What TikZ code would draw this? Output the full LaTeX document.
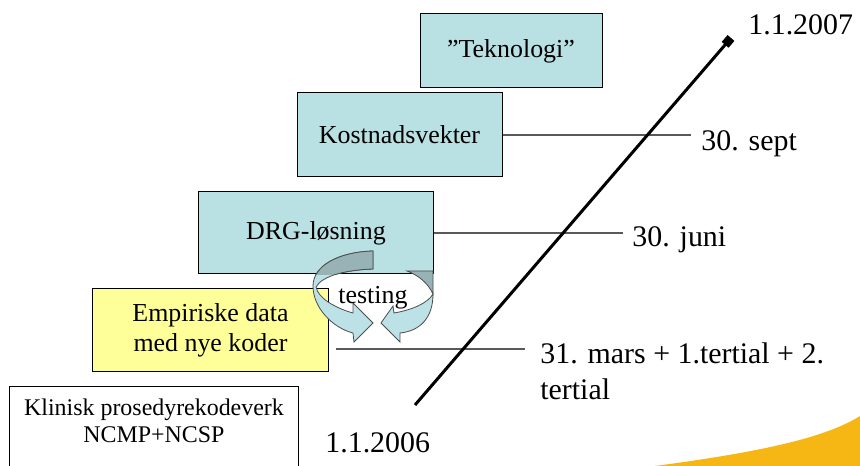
\documentclass[tikz,border=0pt]{standalone}
\usepackage{fontspec}
\setmainfont{Liberation Serif}
\usetikzlibrary{arrows.meta}
\definecolor{boxteal}{HTML}{B9E0E3}
\definecolor{boxyellow}{HTML}{FFFF99}
\definecolor{loopfront}{HTML}{BCE2E7}
\definecolor{loopback}{HTML}{97B3B5}
\definecolor{swoosh}{HTML}{F6B614}
\newcommand{\leftloop}{(373,251) .. controls (338,252) and (313,266) .. (313,286)
  .. controls (313,308) and (333,328) .. (353,333) -- (354,342) -- (373,323) -- (353,303)
  -- (353,313) .. controls (335,308) and (318,298) .. (316,287)
  .. controls (322,276) and (345,270) .. (373,269) -- cycle}
\begin{document}
\begin{tikzpicture}[x=0.5bp, y=-0.5bp,
  box/.style={draw, line width=0.5bp, align=center, inner sep=0pt, font=\fontsize{13}{15}\selectfont},
  tealbox/.style={box, fill=boxteal},
  datebox/.style={anchor=base west, inner sep=0pt, font=\fontsize{15}{18.5}\selectfont},
  tick/.style={draw=black!65, line width=0.75bp},
  loop/.style={fill=loopfront, draw=black!70, line width=0.4bp}
]
\useasboundingbox (0,0) rectangle (860,466);
\fill[swoosh] (655,466) .. controls (760,452) and (825,438) .. (860,416) -- (860,466) -- cycle;

\node[tealbox, minimum width=91bp, minimum height=37bp] (tek) at (511,51) {”Teknologi”};
\node[tealbox, minimum width=102.5bp, minimum height=42bp] (kost) at (399.5,135) {Kostnadsvekter};
\node[tealbox, minimum width=117bp, minimum height=41bp] (drg) at (316,233) {DRG-løsning};
\node[box, fill=boxyellow, minimum width=117.5bp, minimum height=41.5bp] (emp) at (210.5,330.5) {Empiriske data\\med nye koder};
\node[box, fill=white, minimum width=144bp, minimum height=44bp] (klin) at (154,431) {};
\node[align=center, inner sep=0pt, font=\fontsize{12}{13.5}\selectfont] (klintext) at (154,421) {Klinisk prosedyrekodeverk\\NCMP+NCSP};

\node[datebox] (d2007) at (748,35) {1.1.2007};
\node[datebox] (sept) at (701,151) {30. sept};
\node[datebox] (juni) at (632,247) {30. juni};
\node[anchor=north west, inner sep=0pt, align=left, font=\fontsize{15}{18.5}\selectfont] (mars) at (540,342) {31. mars + 1.tertial + 2.\\tertial};
\node[datebox] (d2006) at (325,453) {1.1.2006};

\coordinate (marsstart) at (336,349);
\draw[tick, shorten >=5bp] (kost.east) -- (kost.east -| sept.west);
\draw[tick, shorten >=4.5bp] (drg.east) -- (drg.east -| juni.west);
\draw[tick, shorten >=7.5bp] (marsstart) -- (marsstart -| mars.west);

\coordinate (t0) at (415,405);
\coordinate (t1) at (731,38);
\draw[line width=1.5bp, -{Square[length=4.5bp,width=4.5bp]}] (t0) -- (t1);

\path[loop] \leftloop;
\begin{scope}
  \clip (drg.south west) rectangle (drg.north east);
  \path[loop, fill=loopback] \leftloop;
\end{scope}
\path[loop, fill=loopback] (407,271) -- (433,271) -- (433,294) .. controls (428,283) and (418,275) .. (407,271) -- cycle;
\path[loop] (433,294) .. controls (433,318) and (420,331) .. (400,333) -- (400,342) -- (381,323) -- (393,306)
  -- (394,313) .. controls (412,310) and (428,303) .. (433,294) -- cycle;
\node[anchor=base, inner sep=0pt, font=\fontsize{13}{15}\selectfont] (testing) at (373,304) {testing};
\end{tikzpicture}
\end{document}
